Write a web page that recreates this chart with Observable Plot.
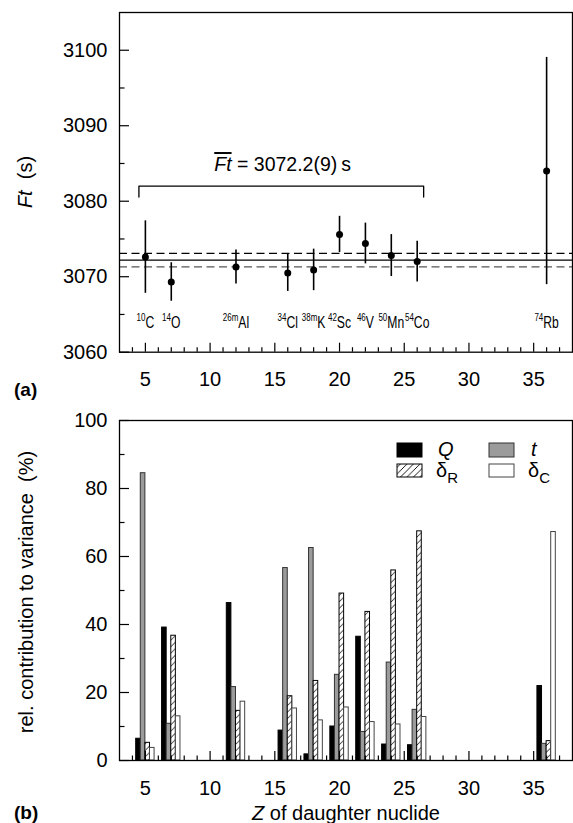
<!DOCTYPE html>
<html><head><meta charset="utf-8">
<script src="https://cdn.jsdelivr.net/npm/d3@7"></script>
<script src="https://cdn.jsdelivr.net/npm/@observablehq/plot@0.6"></script>
<style>
body{margin:0;background:#fff;}
#wrap{position:relative;width:573px;height:823px;overflow:hidden;background:#fff;}
.panel{position:absolute;left:0;}
#overlay{position:absolute;left:0;top:0;pointer-events:none;}
</style></head><body>
<div id="wrap">
<div id="topPanel" class="panel" style="top:0"></div>
<div id="bottomPanel" class="panel" style="top:395px"></div>
<svg id="overlay" width="573" height="823" font-family="'Liberation Sans', Arial, sans-serif">
<defs>
<pattern id="hatchR" patternUnits="userSpaceOnUse" width="6.5" height="6.5">
<rect width="6.5" height="6.5" fill="#fff"/>
<path d="M0,6.5 L6.5,0 M-1,1 L1,-1 M5.5,7.5 L7.5,5.5" stroke="#000" stroke-width="0.9"/>
</pattern>
</defs>
<text transform="translate(31.5,182) rotate(-90)" text-anchor="middle" font-size="20" xml:space="preserve"><tspan font-style="italic">Ft</tspan>  (s)</text>
<text transform="translate(33,592) rotate(-90)" text-anchor="middle" font-size="20" xml:space="preserve">rel. contribution to variance  (%)</text>
<text x="346" y="819.5" text-anchor="middle" font-size="20"><tspan font-style="italic">Z</tspan> of daughter nuclide</text>
<text x="14" y="396" font-size="19" font-weight="bold">(a)</text>
<text x="14" y="819" font-size="19" font-weight="bold">(b)</text>
<g id="legend"></g>
</svg>
</div>
<script>
// ---------- data ----------
const nuclides = ["10C","14O","26mAl","34Cl","38mK","42Sc","46V","50Mn","54Co","74Rb"];
const massLabels = ["10","14","26m","34","38m","42","46","50","54","74"];
const symbolLabels = ["C","O","Al","Cl","K","Sc","V","Mn","Co","Rb"];
const zDaughter = [5,7,12,16,18,20,22,24,26,36];
const ftValues = [3072.6,3069.3,3071.3,3070.5,3070.9,3075.6,3074.4,3072.8,3072.0,3084.0];
const ftErrors = [4.8,2.55,2.25,2.45,2.75,2.4,2.7,2.78,2.7,15.05];
const ftMean = 3072.2;
const ftMeanErr = 0.9;
const meanLabelText = "Ft = 3072.2(9) s";
const meanLabelZ = [15.6];
const meanLabelFt = [3084.0];
const bracketZ = [4.5,4.5,26.5,26.5];
const bracketFt = [3080.55,3082,3082,3080.55];
const nuclideLabelFt = 3063.9;

const components = ["Q","t","δR","δC"];
const contribQ  = [6.4,39.1,46.3,8.8,1.8,10.0,36.4,4.7,4.5,21.9];
const contribT  = [84.5,10.8,21.6,56.6,62.5,25.2,8.4,28.8,14.9,4.9];
const contribDR = [5.2,36.7,14.6,18.9,23.4,49.1,43.7,55.9,67.4,5.7];
const contribDC = [3.7,13.0,17.3,15.3,11.8,15.6,11.3,10.6,12.8,67.2];

const xTickLabels = [5,10,15,20,25,30,35];
const topYTickLabels = [3060,3070,3080,3090,3100];
const bottomYTickLabels = [0,20,40,60,80,100];
const xDomain = [3,38];
const topYDomain = [3060,3105];
const bottomYDomain = [0,100];

// ---------- layout ----------
const FONT = "'Liberation Sans', Arial, sans-serif";
const W = 573, ML = 119, MR = 1;
const innerW = W - ML - MR;
const H1 = 395, MT1 = 12, MB1 = 43.3, innerH1 = H1 - MT1 - MB1;
const H2 = 428, MT2 = 25, MB2 = 63, innerH2 = H2 - MT2 - MB2;
const xMinor = d3.range(xDomain[0] + 1, xDomain[1]).filter(v => v % 5 !== 0);
const xMajor = d3.range(xDomain[0] + 1, xDomain[1]).filter(v => v % 5 === 0);
const plainFormat = d => String(d);

function tickMarks(innerH, yMinor, yMajor) {
  return [
    Plot.tickX(xMinor, {x: d => d, insetTop: innerH - 4.5, stroke: "#000", strokeWidth: 1.2}),
    Plot.tickX(xMajor, {x: d => d, insetTop: innerH - 9, stroke: "#000", strokeWidth: 1.2}),
    Plot.tickY(yMinor, {y: d => d, insetRight: innerW - 5.5, stroke: "#000", strokeWidth: 1.2}),
    Plot.tickY(yMajor, {y: d => d, insetRight: innerW - 10, stroke: "#000", strokeWidth: 1.2})
  ];
}

// ---------- top panel ----------
const points = zDaughter.map((z, i) => ({z, ft: ftValues[i], err: ftErrors[i], name: nuclides[i]}));
const bracket = bracketZ.map((z, i) => ({z, ft: bracketFt[i]}));
const meanLabel = meanLabelZ.map((z, i) => ({z, ft: meanLabelFt[i], text: meanLabelText}));
const topYMinor = topYTickLabels.slice(0, -1).map(v => v + 5);

const topPlot = Plot.plot({
  width: W, height: H1, marginTop: MT1, marginBottom: MB1, marginLeft: ML, marginRight: MR,
  x: {domain: xDomain}, y: {domain: topYDomain},
  style: {fontFamily: FONT, fontSize: "20px", color: "#000", background: "transparent", overflow: "visible"},
  marks: [
    Plot.ruleY([ftMean - ftMeanErr], {stroke: "#555", strokeWidth: 1.3, strokeDasharray: "8,4.5"}),
    Plot.ruleY([ftMean + ftMeanErr], {stroke: "#000", strokeWidth: 1.3, strokeDasharray: "8,4.5"}),
    Plot.ruleY([ftMean], {stroke: "#000", strokeWidth: 1.4}),
    Plot.line(bracket, {x: "z", y: "ft", stroke: "#000", strokeWidth: 1.3}),
    Plot.text(meanLabel, {x: "z", y: "ft", text: "text", lineAnchor: "bottom", fontSize: 19.5}),
    Plot.ruleX(points, {x: "z", y1: d => d.ft - d.err, y2: d => d.ft + d.err, stroke: "#000", strokeWidth: 1.6}),
    Plot.dot(points, {x: "z", y: "ft", r: 3.5, fill: "#000", stroke: "none"}),
    Plot.text(points, {x: "z", y: () => nuclideLabelFt, text: "name", fontSize: 16}),
    ...tickMarks(innerH1, topYMinor, topYTickLabels),
    Plot.axisX(xTickLabels, {tickSize: 0, tickPadding: 20, fontSize: 20, label: null, tickFormat: plainFormat}),
    Plot.axisY(topYTickLabels, {tickSize: 0, tickPadding: 12, fontSize: 20, label: null, tickFormat: plainFormat}),
    Plot.frame({stroke: "#000", strokeWidth: 1.3})
  ]
});
document.getElementById("topPanel").appendChild(topPlot);

// post-process rich text (superscript mass numbers, condensed labels, overlined mean)
d3.select(topPlot).selectAll("text").each(function() {
  const t = this.textContent;
  const i = nuclides.indexOf(t);
  const el = d3.select(this);
  if (i >= 0) {
    el.text(null);
    el.append("tspan").attr("font-size", 10.5).attr("dy", -6.5).text(massLabels[i]);
    el.append("tspan").attr("dy", 6.5).text(symbolLabels[i]);
    const tr = this.getAttribute("transform") || "";
    this.setAttribute("transform", tr + " scale(0.76,1)");
  } else if (t === meanLabelText) {
    el.text(null);
    el.append("tspan").attr("font-style", "italic").style("text-decoration", "overline").text("Ft");
    el.append("tspan").text(" = 3072.2(9)\u2009s");
  }
});

// ---------- bottom panel ----------
const series = [contribQ, contribT, contribDR, contribDC];
const barStyles = [
  {fill: "#000", stroke: "#000"},
  {fill: "#9b9b9b", stroke: "#333"},
  {fill: "url(#hatchR)", stroke: "#000"},
  {fill: "#fff", stroke: "#444"}
];
const barW = 0.355;
const bars = [];
zDaughter.forEach((z, i) => components.forEach((c, j) => bars.push({z, comp: c, j, v: series[j][i]})));
const bottomYMinor = bottomYTickLabels.slice(0, -1).map(v => v + 10);

const barMarks = components.map((c, j) =>
  Plot.rectY(bars.filter(d => d.j === j), {
    x1: d => d.z + (d.j - 2) * barW, x2: d => d.z + (d.j - 1) * barW,
    y1: 0, y2: "v", fill: barStyles[j].fill, stroke: barStyles[j].stroke, strokeWidth: 1
  })
);

const bottomPlot = Plot.plot({
  width: W, height: H2, marginTop: MT2, marginBottom: MB2, marginLeft: ML, marginRight: MR,
  x: {domain: xDomain}, y: {domain: bottomYDomain},
  style: {fontFamily: FONT, fontSize: "20px", color: "#000", background: "transparent", overflow: "visible"},
  marks: [
    ...barMarks,
    ...tickMarks(innerH2, bottomYMinor, bottomYTickLabels),
    Plot.axisX(xTickLabels, {tickSize: 0, tickPadding: 20, fontSize: 20, label: null, tickFormat: plainFormat}),
    Plot.axisY(bottomYTickLabels, {tickSize: 0, tickPadding: 12, fontSize: 20, label: null, tickFormat: plainFormat}),
    Plot.frame({stroke: "#000", strokeWidth: 1.3})
  ]
});
document.getElementById("bottomPanel").appendChild(bottomPlot);

// ---------- legend ----------
const legendItems = [
  {comp: "Q", x: 397, y: 443, h: 14, tx: 438, ty: 456},
  {comp: "t", x: 489, y: 443, h: 14, tx: 531, ty: 456},
  {comp: "δR", x: 397, y: 464, h: 13, tx: 436, ty: 476.5},
  {comp: "δC", x: 489, y: 464, h: 13, tx: 528, ty: 476.5}
];
const lg = d3.select("#legend");
legendItems.forEach(it => {
  const j = components.indexOf(it.comp);
  lg.append("rect").attr("x", it.x).attr("y", it.y).attr("width", 25).attr("height", it.h)
    .attr("fill", barStyles[j].fill).attr("stroke", barStyles[j].stroke).attr("stroke-width", 1);
  const t = lg.append("text").attr("x", it.tx).attr("y", it.ty).attr("font-size", 20);
  if (it.comp.length === 1) {
    t.attr("font-style", "italic").text(it.comp);
  } else {
    t.append("tspan").text(it.comp[0]);
    t.append("tspan").attr("font-size", 15).attr("dy", 6).text(it.comp[1]);
  }
});
</script>
</body></html>
